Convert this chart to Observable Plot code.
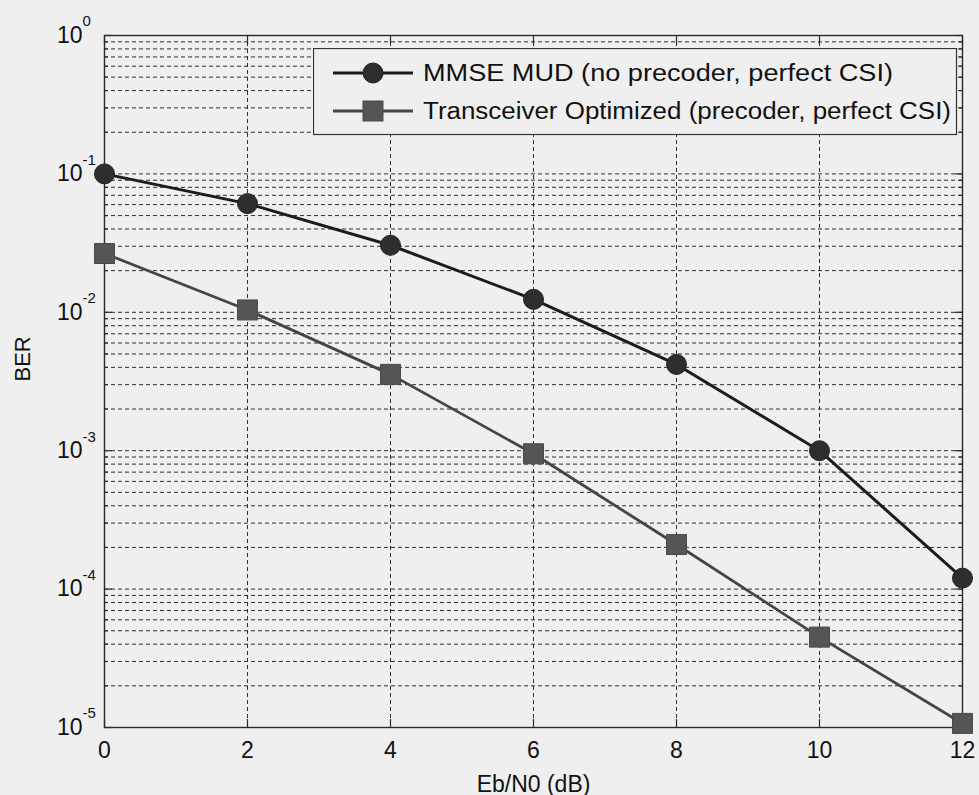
<!DOCTYPE html>
<html>
<head>
<meta charset="utf-8">
<script src="https://cdn.jsdelivr.net/npm/d3@7"></script>
<script src="https://cdn.jsdelivr.net/npm/@observablehq/plot@0.6"></script>
<style>
  html, body { margin: 0; padding: 0; background: #efefef; }
  #wrap { position: relative; width: 979px; height: 795px; font-family: "Liberation Sans", Arial, sans-serif; }
  #legend { position: absolute; left: 313px; top: 48px; }
</style>
</head>
<body>
<div id="wrap"><div id="chart"></div><div id="legend"></div></div>
<script>
// Data
const ebn0 = [0, 2, 4, 6, 8, 10, 12];
const berMMSE = [0.1, 0.061, 0.0305, 0.0124, 0.0042, 0.001, 0.00012];
const berTrans = [0.0266, 0.0104, 0.00356, 0.00095, 0.00021, 0.000045, 0.0000107];
const seriesNames = ["MMSE MUD (no precoder, perfect CSI)", "Transceiver Optimized (precoder, perfect CSI)"];
const xTicks = [0, 2, 4, 6, 8, 10, 12];
const xGrid = [2, 4, 6, 8, 10];
const yDecades = [1, 0.1, 0.01, 0.001, 0.0001, 0.00001];
const yMinor = yDecades.slice(1).flatMap(d => [2,3,4,5,6,7,8,9].map(m => m * d));

const rows = [
  ...ebn0.map((x, i) => ({x, ber: berMMSE[i], s: seriesNames[0]})),
  ...ebn0.map((x, i) => ({x, ber: berTrans[i], s: seriesNames[1]}))
];
const mmse = rows.filter(r => r.s === seriesNames[0]);
const trans = rows.filter(r => r.s === seriesNames[1]);

const font = "'Liberation Sans', Arial, sans-serif";
const gridStyle = {stroke: "#2e2e2e", strokeOpacity: 1, strokeWidth: 1, strokeDasharray: "4,3"};
const tickStyle = {tickFormat: () => "", stroke: "#2a2a2a", strokeWidth: 1.2, label: null};

const chart = Plot.plot({
  width: 979,
  height: 795,
  marginLeft: 104,
  marginRight: 17,
  marginTop: 35,
  marginBottom: 68,
  style: {background: "#efefef", fontFamily: font, color: "#111"},
  x: {domain: [0, 12]},
  y: {type: "log", domain: [0.00001, 1]},
  marks: [
    Plot.gridY(yMinor, gridStyle),
    Plot.gridY(yDecades, gridStyle),
    Plot.gridX(xGrid, gridStyle),
    Plot.frame({stroke: "#2a2a2a", strokeWidth: 1.4}),
    // inward ticks
    Plot.axisX(xTicks, {anchor: "bottom", tickSize: -8, ...tickStyle}),
    Plot.axisX(xTicks, {anchor: "top", tickSize: -8, ...tickStyle}),
    Plot.axisY(yDecades, {anchor: "left", tickSize: -8, ...tickStyle}),
    Plot.axisY(yMinor, {anchor: "left", tickSize: -4, ...tickStyle}),
    Plot.axisY(yDecades, {anchor: "right", tickSize: -8, ...tickStyle}),
    Plot.axisY(yMinor, {anchor: "right", tickSize: -4, ...tickStyle}),
    // x labels
    Plot.axisX(xTicks, {anchor: "bottom", tickSize: 0, tickPadding: 14, fontSize: 23, fontFamily: font, fill: "#111", label: "Eb/N0 (dB)", labelAnchor: "center", labelOffset: 64, labelArrow: "none"}),
    // y labels: 10 with superscript exponent
    Plot.text(yDecades, {y: d => d, frameAnchor: "left", text: () => "10", textAnchor: "end", dx: -22, fontSize: 23, fontFamily: font, fill: "#111"}),
    Plot.text(yDecades, {y: d => d, frameAnchor: "left", text: d => String(Math.round(Math.log10(d))), textAnchor: "start", dx: -22, dy: -14, fontSize: 15, fontFamily: font, fill: "#111"}),
    Plot.text(["BER"], {frameAnchor: "left", text: d => d, rotate: -90, dx: -82, fontSize: 22, fontFamily: font, fill: "#111"}),
    // series
    Plot.line(trans, {x: "x", y: "ber", stroke: "#454545", strokeWidth: 2.8}),
    Plot.line(mmse, {x: "x", y: "ber", stroke: "#1c1c1c", strokeWidth: 3}),
    Plot.dot(mmse, {x: "x", y: "ber", r: 10, symbol: "circle", fill: "#2e2e2e", stroke: "#222", strokeWidth: 1}),
    Plot.dot(trans, {x: "x", y: "ber", r: 11.3, symbol: "square", fill: "#555", stroke: "#4a4a4a", strokeWidth: 1})
  ]
});
document.getElementById("chart").appendChild(chart);

// Legend (HTML overlay)
const lw = 643, lh = 86;
const lsvg = d3.create("svg").attr("width", lw + 2).attr("height", lh + 2).style("display", "block");
lsvg.append("rect").attr("x", 0.5).attr("y", 0.5).attr("width", lw).attr("height", lh)
  .attr("fill", "#efefef").attr("stroke", "#333").attr("stroke-width", 1.2);
const legendItems = [
  {name: seriesNames[0], stroke: "#1c1c1c", fill: "#2e2e2e", shape: "circle", len: 470},
  {name: seriesNames[1], stroke: "#454545", fill: "#555", shape: "square", len: 528}
];
legendItems.forEach((it, i) => {
  const cy = 25 + i * 38;
  lsvg.append("line").attr("x1", 20).attr("x2", 100).attr("y1", cy).attr("y2", cy)
    .attr("stroke", it.stroke).attr("stroke-width", 3);
  if (it.shape === "circle") {
    lsvg.append("circle").attr("cx", 60).attr("cy", cy).attr("r", 10).attr("fill", it.fill).attr("stroke", "#222");
  } else {
    lsvg.append("rect").attr("x", 50).attr("y", cy - 10).attr("width", 20).attr("height", 20).attr("fill", it.fill).attr("stroke", "#4a4a4a");
  }
  lsvg.append("text").attr("x", 110).attr("y", cy).attr("dy", "0.36em")
    .attr("font-family", font).attr("font-size", 23).attr("fill", "#111")
    .attr("textLength", it.len).attr("lengthAdjust", "spacingAndGlyphs")
    .text(it.name);
});
document.getElementById("legend").appendChild(lsvg.node());
</script>
</body>
</html>
